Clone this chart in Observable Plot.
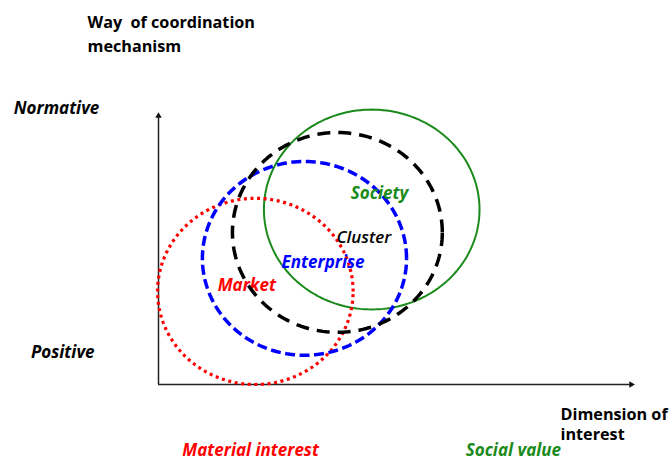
<!DOCTYPE html>
<html>
<head>
<meta charset="utf-8">
<script src="https://cdn.jsdelivr.net/npm/d3@7"></script>
<script src="https://cdn.jsdelivr.net/npm/@observablehq/plot@0.6"></script>
<style>
  html, body { margin: 0; padding: 0; background: #fff; }
  svg { display: block; }
</style>
</head>
<body>
<div id="chart"></div>
<script>
// ---- data (conceptual coordinates: 0..100 on both axes) ----
const circleNames = ["Society", "Market", "Enterprise", "Cluster"];
const circleCX = [44.7, 20.3, 30.6, 37.5];
const circleCY = [64.1, 34.1, 46.2, 55.7];
const circleRX = [22.6, 20.5, 21.4, 22.0];
const circleRY = [36.6, 34.1, 35.5, 36.6];

const innerLabels = ["Society", "Cluster", "Enterprise", "Market"];
const innerLabelX = [40.3, 37.3, 25.8, 12.4];
const innerLabelY = [70.0, 53.8, 44.7, 36.3];

const yTickLabels = ["Normative", "Positive"];
const yTickValues = [101, 11.7];
const yTickEnds = [-12.4, -13.4];
const xTickLabels = ["Material interest", "Social value"];
const xTickValues = [19.3, 74.4];

const yTitle = "Way  of coordination\nmechanism";
const xTitle = "Dimension of\ninterest";

// ---- build tables ----
const styles = {
  Society:    {stroke: "#1a8a1a", strokeWidth: 2,   dash: null},
  Market:     {stroke: "#ff0000", strokeWidth: 3.2, dash: "3,3.6"},
  Enterprise: {stroke: "#0000ff", strokeWidth: 3.5, dash: "10,4.5"},
  Cluster:    {stroke: "#000000", strokeWidth: 3.5, dash: "13,8"}
};
const labelColor = {Society: "#1a8a1a", Cluster: "#000", Enterprise: "#0000ff", Market: "#ff0000"};

function outline(i) {
  const pts = [];
  for (let a = 0; a <= 360; a += 2) {
    const t = a * Math.PI / 180;
    pts.push({x: circleCX[i] + circleRX[i] * Math.cos(t), y: circleCY[i] + circleRY[i] * Math.sin(t)});
  }
  return pts;
}
const ellipseMarks = circleNames.map((name, i) => {
  const s = styles[name];
  return Plot.line(outline(i), {x: "x", y: "y", stroke: s.stroke, strokeWidth: s.strokeWidth,
    strokeDasharray: s.dash, strokeLinecap: "butt"});
});

const labels = innerLabels.map((t, i) => ({text: t, x: innerLabelX[i], y: innerLabelY[i]}));
const font = "'Open Sans', Lato, sans-serif";
const labelSize = 17;
const titleSize = 16.2;

const chart = Plot.plot({
  width: 672,
  height: 461,
  marginLeft: 158,
  marginRight: 37,
  marginTop: 111,
  marginBottom: 77,
  style: {fontFamily: font, background: "#fff"},
  x: {domain: [0, 100], axis: null},
  y: {domain: [0, 100], axis: null},
  marks: [
    // axes
    Plot.ruleX([0], {y1: 0, y2: 98.5, stroke: "#222", strokeWidth: 1.5}),
    Plot.ruleY([0], {x1: 0, x2: 99, stroke: "#222", strokeWidth: 1.5}),
    Plot.dot([{x: 0, y: 98.4}], {x: "x", y: "y", symbol: "triangle", r: 2.4, fill: "#111", stroke: null}),
    Plot.dot([{x: 99.1, y: 0}], {x: "x", y: "y", symbol: "triangle", r: 2.4, fill: "#111", stroke: null, rotate: 90}),
    ellipseMarks[0],
    ellipseMarks[1],
    ellipseMarks[2],
    // in-chart labels
    Plot.text(labels.filter(d => d.text !== "Cluster"), {x: "x", y: "y", text: "text", textAnchor: "start",
      fill: d => labelColor[d.text], fontSize: labelSize, fontWeight: "bold", fontStyle: "italic"}),
    Plot.text(labels.filter(d => d.text === "Cluster"), {x: "x", y: "y", text: "text", textAnchor: "start",
      fill: "#000", fontSize: labelSize, fontWeight: 600, fontStyle: "italic"}),
    ellipseMarks[3],
    // y "tick" labels
    Plot.text(yTickLabels, {x: (d, i) => yTickEnds[i], y: (d, i) => yTickValues[i], text: d => d, textAnchor: "end",
      fill: "#000", fontSize: labelSize, fontWeight: "bold", fontStyle: "italic"}),
    // x "tick" labels
    Plot.text(xTickLabels, {x: (d, i) => xTickValues[i], y: () => 0, text: d => d, dy: 66,
      fill: (d, i) => i === 0 ? "#ff0000" : "#1a8a1a", fontSize: labelSize, fontWeight: "bold", fontStyle: "italic"}),
    // axis titles
    Plot.text([yTitle], {x: () => 0, y: () => 100, text: d => d, textAnchor: "start", dx: -71, dy: -79,
      lineHeight: 1.45, fill: "#000", fontSize: titleSize, fontWeight: "bold"}),
    Plot.text([xTitle], {x: () => 100, y: () => 0, text: d => d, textAnchor: "start", dx: -75, dy: 39,
      lineHeight: 1.24, fill: "#000", fontSize: titleSize, fontWeight: "bold"})
  ]
});
document.getElementById("chart").appendChild(chart);
</script>
</body>
</html>
